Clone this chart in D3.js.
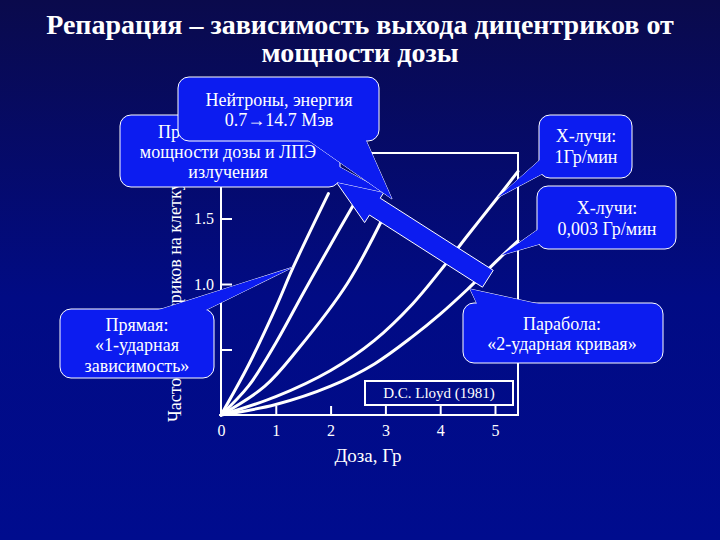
<!DOCTYPE html>
<html>
<head>
<meta charset="utf-8">
<script src="https://cdn.jsdelivr.net/npm/d3@7"></script>
<style>
  body { margin: 0; background: #000; }
  svg { display: block; }
  text { font-family: "Liberation Serif", "Times New Roman", serif; fill: #fff; }
</style>
</head>
<body>
<svg id="chart" width="720" height="540"></svg>
<script>
// --- data ---
const titleLines = ['Репарация – зависимость выхода дицентриков от', 'мощности дозы'];
const xTicks = [0, 1, 2, 3, 4, 5];
const yTicks = [0.5, 1.0, 1.5];
const yTickLabels = ['0.5', '1.0', '1.5'];
const xLabel = 'Доза, Гр';
const yLabel = 'Частота дицентриков на клетку';

// dose (Gy) / dicentrics per cell, one pair per curve
const neutronDose = [0, 0.5, 1.0, 1.32, 1.96];
const neutronYield = [0, 0.38, 0.82, 1.13, 1.69];
const curve2Dose = [0, 0.5, 1.0, 1.5, 2.0, 2.41];
const curve2Yield = [0, 0.22, 0.55, 0.93, 1.3, 1.6];
const curve3Dose = [0, 0.8, 1.4, 2.3, 2.95];
const curve3Yield = [0, 0.22, 0.5, 1.0, 1.5];
const xray1Dose = [0, 1.0, 2.0, 2.8, 3.5, 4.0, 4.5, 5.05, 5.42];
const xray1Yield = [0, 0.14, 0.34, 0.57, 0.85, 1.1, 1.37, 1.66, 1.86];
const xray003Dose = [0, 1.0, 2.0, 2.8, 3.5, 4.0, 4.5, 5.09, 5.42];
const xray003Yield = [0, 0.08, 0.22, 0.39, 0.6, 0.77, 0.96, 1.2, 1.33];

const curves = [
  [neutronDose, neutronYield],
  [curve2Dose, curve2Yield],
  [curve3Dose, curve3Yield],
  [xray1Dose, xray1Yield],
  [xray003Dose, xray003Yield]
].map(([xs, ys]) => xs.map((d, i) => ({ dose: d, y: ys[i] })));

const boxFill = '#0c1cf0';

const svg = d3.select('#chart');

// background gradient
const defs = svg.append('defs');
const grad = defs.append('linearGradient')
  .attr('id', 'bg').attr('x1', 0).attr('y1', 0).attr('x2', 0).attr('y2', 1);
grad.append('stop').attr('offset', '0%').attr('stop-color', '#0a0a4c');
grad.append('stop').attr('offset', '55%').attr('stop-color', '#010b84');
grad.append('stop').attr('offset', '100%').attr('stop-color', '#000c8e');
svg.append('rect').attr('width', 720).attr('height', 540).attr('fill', 'url(#bg)');

// title
svg.append('g').selectAll('text')
  .data(titleLines)
  .join('text')
  .attr('x', 360)
  .attr('y', (d, i) => 34 + i * 28)
  .attr('text-anchor', 'middle')
  .attr('font-size', 28)
  .attr('font-weight', 'bold')
  .text(d => d);

// scales
const x = d3.scaleLinear().domain([0, 5.42]).range([221, 518]);
const y = d3.scaleLinear().domain([0, 2]).range([415, 153]);

// frame
svg.append('rect')
  .attr('x', x(0)).attr('y', y(2))
  .attr('width', x(5.42) - x(0)).attr('height', y(0) - y(2))
  .attr('fill', 'none').attr('stroke', '#fff').attr('stroke-width', 2);

const xAxis = svg.append('g')
  .attr('transform', `translate(0,${y(0)})`)
  .call(d3.axisBottom(x).tickValues(xTicks).tickFormat(d3.format('d'))
    .tickSizeInner(-9).tickSizeOuter(0).tickPadding(10));
const yAxis = svg.append('g')
  .attr('transform', `translate(${x(0)},0)`)
  .call(d3.axisLeft(y).tickValues(yTicks).tickFormat((d, i) => yTickLabels[i])
    .tickSizeInner(-11).tickSizeOuter(0).tickPadding(7));
[xAxis, yAxis].forEach(g => {
  g.select('.domain').remove();
  g.selectAll('line').attr('stroke', '#fff').attr('stroke-width', 2);
  g.selectAll('text').attr('fill', '#fff').attr('font-size', 16)
    .attr('font-family', '"Liberation Serif", serif');
});
xAxis.selectAll('.tick').filter(d => d === 0).select('line').remove();

svg.append('text')
  .attr('x', 368).attr('y', 462)
  .attr('text-anchor', 'middle')
  .attr('font-size', 19)
  .text(xLabel);

svg.append('text')
  .attr('transform', 'translate(181,422) rotate(-90)')
  .attr('font-size', 18)
  .text(yLabel);

// curves
const line = d3.line()
  .x(d => x(d.dose))
  .y(d => y(d.y))
  .curve(d3.curveCatmullRom.alpha(0.5));

svg.append('g').selectAll('path')
  .data(curves)
  .join('path')
  .attr('d', line)
  .attr('fill', 'none')
  .attr('stroke', '#fff')
  .attr('stroke-width', 3)
  .attr('stroke-linecap', 'round');

// reference box
svg.append('rect')
  .attr('x', 365).attr('y', 381).attr('width', 148).attr('height', 24)
  .attr('fill', 'none').attr('stroke', '#fff').attr('stroke-width', 2);
svg.append('text')
  .attr('x', 439).attr('y', 398)
  .attr('text-anchor', 'middle')
  .attr('font-size', 15)
  .text('D.C. Lloyd (1981)');

// callout: rounded box + pointer wedge
function callout(box, wedge, lines) {
  const g = svg.append('g');
  const poly = d3.line();
  g.append('path').attr('d', poly(wedge) + 'Z')
    .attr('fill', boxFill).attr('stroke', '#fff').attr('stroke-width', 1);
  g.append('rect')
    .attr('x', box.x).attr('y', box.y).attr('width', box.w).attr('height', box.h)
    .attr('rx', 11)
    .attr('fill', boxFill).attr('stroke', '#fff').attr('stroke-width', 1);
  g.append('path').attr('d', poly(wedge) + 'Z').attr('fill', boxFill);
  g.selectAll('text')
    .data(lines)
    .join('text')
    .attr('x', d => d.x)
    .attr('y', d => d.y)
    .attr('text-anchor', d => d.anchor || 'middle')
    .attr('font-size', 18)
    .text(d => d.t);
  return g;
}

// block arrow (rising dose rate / LET)
function blockArrow(tip, tail, headLen, headHalf, shaftHalf) {
  const dx = tail[0] - tip[0], dy = tail[1] - tip[1];
  const len = Math.hypot(dx, dy);
  const ux = dx / len, uy = dy / len, nx = -uy, ny = ux;
  const p = (a, b) => [tip[0] + ux * a + nx * b, tip[1] + uy * a + ny * b];
  const pts = [p(0, 0), p(headLen, headHalf), p(headLen, shaftHalf), p(len, shaftHalf),
    p(len, -shaftHalf), p(headLen, -shaftHalf), p(headLen, -headHalf)];
  svg.append('path').attr('d', d3.line()(pts) + 'Z')
    .attr('fill', boxFill).attr('stroke', '#fff').attr('stroke-width', 1);
}

callout({ x: 60, y: 309, w: 154, h: 69 },
  [[152, 312], [202, 312], [x(1.32), y(1.13)]],
  [{ x: 137, y: 331, t: 'Прямая:' }, { x: 137, y: 351, t: '«1-ударная' }, { x: 137, y: 372, t: 'зависимость»' }]);

callout({ x: 463, y: 303, w: 200, h: 60 },
  [[478, 306], [548, 306], [470, 289]],
  [{ x: 562, y: 330, t: 'Парабола:' }, { x: 562, y: 350, t: '«2-ударная кривая»' }]);

callout({ x: 539, y: 115, w: 93, h: 63 },
  [[542, 158], [542, 174], [x(5.05), y(1.66)]],
  [{ x: 586, y: 142, t: 'X-лучи:' }, { x: 586, y: 163, t: '1Гр/мин' }]);

callout({ x: 537, y: 186, w: 139, h: 63 },
  [[540, 228], [540, 244], [x(5.12), y(1.22)]],
  [{ x: 607, y: 214, t: 'X-лучи:' }, { x: 607, y: 235, t: '0,003 Гр/мин' }]);

blockArrow([x(2.1), y(1.78)], [x(4.87), y(1.04)], 46, 19, 10);

// first line only shows "Пр" — the rest sits under the neutron callout
callout({ x: 120, y: 115, w: 220, h: 72 },
  [[336, 165], [336, 182], [387, 193]],
  [{ x: 158, y: 138, t: 'Пр', anchor: 'start' }, { x: 228, y: 158, t: 'мощности дозы и ЛПЭ' }, { x: 228, y: 178, t: 'излучения' }]);

callout({ x: 178, y: 77, w: 201, h: 64 },
  [[305, 138], [365, 138], [392, 199]],
  [{ x: 279, y: 106, t: 'Нейтроны, энергия' }, { x: 279, y: 126, t: '0.7\u219214.7 Мэв' }]);
</script>
</body>
</html>
